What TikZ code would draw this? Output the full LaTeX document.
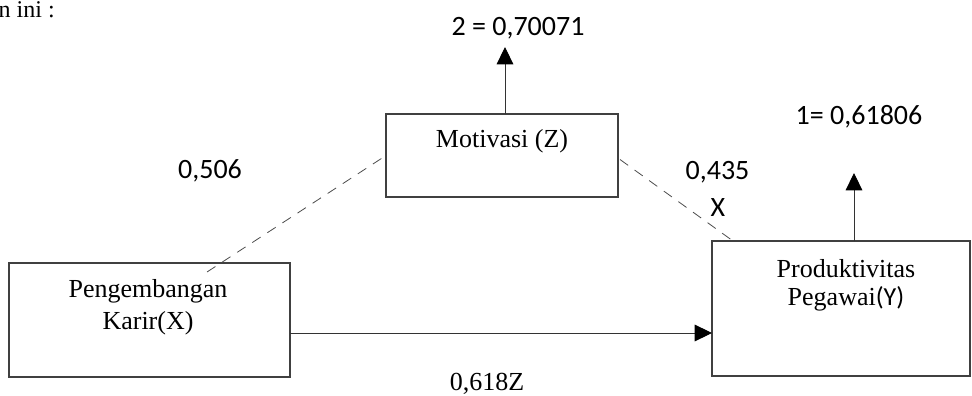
\documentclass[tikz,border=0pt]{standalone}
\usepackage{fontspec}
\setmainfont{Liberation Serif}
\newfontfamily\coeffont{Carlito}
\usetikzlibrary{arrows.meta,calc}

\begin{document}
\begin{tikzpicture}[x=0.75pt,y=-0.75pt,
  box/.style={draw=black!75, line width=0.8pt, outer sep=0pt, inner sep=0pt},
  txt/.style={anchor=base, inner sep=0pt, font=\fontsize{19.5}{24}\selectfont},
  coef/.style={anchor=base, inner sep=0pt, font=\coeffont\fontsize{21}{25}\selectfont},
  path/.style={draw=black!80, line width=0.7pt, -{Triangle[length=13pt,width=12.5pt,color=black]}},
  link/.style={draw=black!70, line width=0.6pt, dash pattern=on 7.5pt off 6pt}]
  \useasboundingbox (0,0) rectangle (972,396);

  % variables
  \node[box, minimum width=174pt, minimum height=62.25pt] (mot) at (502,155.5) {};
  \node[box, minimum width=210.75pt, minimum height=85.5pt] (peng) at (149.5,320) {};
  \node[box, minimum width=193.5pt, minimum height=101.25pt] (prod) at (841,308.5) {};

  \node[txt, anchor=base east, font=\fontsize{18}{22}\selectfont] (intro) at (55,17) {n ini :};
  \node[txt] (motT) at (502,147) {Motivasi (Z)};
  \node[txt] (pengA) at (148,297) {Pengembangan};
  \node[txt] (pengB) at (148,329) {Karir(X)};
  \node[txt] (prodA) at (846,277) {Produktivitas};
  \node[txt] (prodB) at (846,305) {Pegawai{\coeffont(Y)}};

  % residuals
  \coordinate (r2) at (505,47);
  \coordinate (r1) at (854,173);
  \draw[path] (mot.north -| r2) -- (r2);
  \draw[path] (prod.north -| r1) -- (r1);
  \node[coef] (e2) at (518,36) {2 = 0,70071};
  \node[coef] (e1) at (859,124) {1= 0,61806};

  % paths
  \coordinate (h) at (0,333);
  \draw[path] (peng.east |- h) -- (prod.west |- h);
  \draw[link] ($(peng.north west)+(198,9)$) -- (mot.west);
  \draw[link] ($(mot.east)+(2,4)$) -- ($(prod.north west)+(21,0)$);

  \node[coef] (a) at (210,178) {0,506};
  \node[coef] (b) at (717.5,179) {0,435};
  \node[coef] (bx) at (718,216) {X};
  \node[txt] (c) at (487,390) {0,618Z};
\end{tikzpicture}
\end{document}
